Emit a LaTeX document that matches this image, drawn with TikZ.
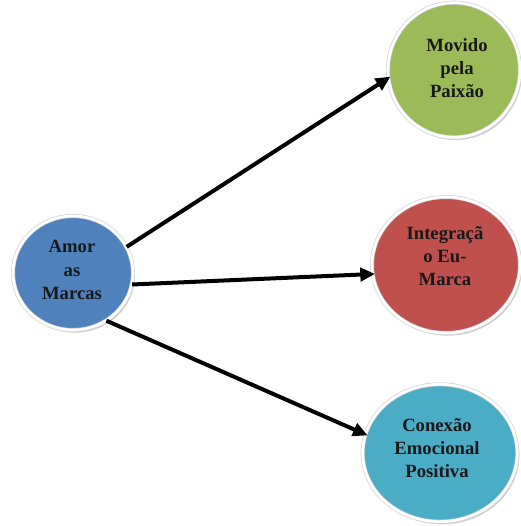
\documentclass[tikz,border=0pt]{standalone}
\usepackage{fontspec}
\setmainfont{Liberation Serif}
\usetikzlibrary{shapes.geometric,shadows,arrows.meta}
\definecolor{amorblue}{RGB}{79,129,189}
\definecolor{paixgreen}{RGB}{155,187,89}
\definecolor{integred}{RGB}{192,80,77}
\definecolor{conexcyan}{RGB}{75,172,198}
\begin{document}
\begin{tikzpicture}[x=0.75pt,y=0.75pt,yscale=-1,xscale=1,
	bubble/.style={ellipse, inner sep=0pt, draw=black!18, double=white, double distance=2pt, line width=0.5pt,
		drop shadow={shadow xshift=1.5pt, shadow yshift=-2pt, opacity=0.3, fill=black!60}},
	txt/.style={align=center, inner sep=0.75pt, font=\bfseries\fontsize{14}{17.5}\selectfont, text=black!90},
	seta/.style={line width=3pt, -{Triangle[length=11pt,width=10pt]}, shorten >=-2pt}]
	\useasboundingbox (0,0) rectangle (521,526);

	\node[bubble, fill=amorblue, minimum width=90pt, minimum height=85.5pt] (amor) at (73,273) {};
	\node[bubble, fill=paixgreen, minimum width=99pt, minimum height=101pt] (paixao) at (454,70) {};
	\node[bubble, fill=integred, minimum width=111pt, minimum height=102pt] (eumarca) at (446,265) {};
	\node[bubble, fill=conexcyan, minimum width=116pt, minimum height=103pt] (conexao) at (440,453) {};

	\node[txt] (amortxt) at (72,270) {Amor\\as\\Marcas};
	\node[txt] (paixaotxt) at (457,68) {Movido\\pela\\Paixão};
	\node[txt] (eumarcatxt) at (445,256) {Integraçã\\o Eu-\\Marca};
	\node[txt] (conexaotxt) at (437,448) {Conexão\\Emocional\\Positiva};

	\draw[seta] (amor.26) -- (paixao.187);
	\draw[seta] (amor.349) -- (eumarca.187);
	\draw[seta] (amor.305) -- (conexao.166);
\end{tikzpicture}
\end{document}
